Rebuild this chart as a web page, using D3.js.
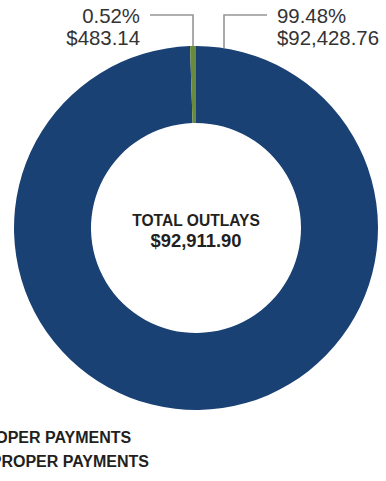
<!DOCTYPE html>
<html>
<head>
<meta charset="utf-8">
<script src="https://cdn.jsdelivr.net/npm/d3@7"></script>
<style>
  html, body { margin: 0; padding: 0; background: #fff; }
  svg { display: block; font-family: "Liberation Sans", Arial, Helvetica, sans-serif; }
</style>
</head>
<body>
<svg id="chart" width="386" height="481"></svg>
<script>
// data
const categories = ["PROPER PAYMENTS", "IMPROPER PAYMENTS"];
const amounts = [92428.76, 483.14];
const percents = [99.48, 0.52];
const totalLabel = "TOTAL OUTLAYS";
const totalAmount = 92911.90;

const colors = ["#1a4174", "#6a8b3b"];

let svg = d3.select("#chart");
let cx = 196, cy = 228;
let outerR = 182, innerR = 105;

let fmtMoney = d3.format("$,.2f");

let pie = d3.pie()
    .sort(null)
    .value(d => d.amount);

let data = categories.map((c, i) => ({
    name: c,
    amount: amounts[i],
    pct: percents[i],
    color: colors[i]
}));

let arcs = pie(data);

let arc = d3.arc()
    .innerRadius(innerR)
    .outerRadius(outerR);

let g = svg.append("g")
    .attr("transform", `translate(${cx},${cy})`);

g.selectAll("path.slice")
    .data(arcs)
    .enter()
    .append("path")
    .attr("class", "slice")
    .attr("d", arc)
    .attr("fill", d => d.data.color);

// center label
g.append("text")
    .attr("text-anchor", "middle")
    .attr("y", -2)
    .attr("font-size", 15.6)
    .attr("font-weight", "bold")
    .attr("fill", "#231f20")
    .text(totalLabel);
g.append("text")
    .attr("text-anchor", "middle")
    .attr("y", 19)
    .attr("font-size", 18.4)
    .attr("font-weight", "bold")
    .attr("fill", "#231f20")
    .text(fmtMoney(totalAmount));

// leader lines + labels
let lineY = 15;
let improper = arcs[1];
let midA = (improper.startAngle + improper.endAngle) / 2;
let lx = cx + outerR * Math.sin(midA);
let ly = cy - outerR * Math.cos(midA);

let rx = cx + 28;
let ry = cy - Math.sqrt(outerR * outerR - 28 * 28);

let line = d3.line();
svg.append("path")
    .attr("d", line([[lx, ly], [lx, lineY], [lx - 43, lineY]]))
    .attr("fill", "none")
    .attr("stroke", "#939598")
    .attr("stroke-width", 1.6);
svg.append("path")
    .attr("d", line([[rx, ry], [rx, lineY], [rx + 43, lineY]]))
    .attr("fill", "none")
    .attr("stroke", "#939598")
    .attr("stroke-width", 1.6);

function label(x, anchor, d) {
    let t = svg.append("text")
        .attr("text-anchor", anchor)
        .attr("font-size", 20.4)
        .attr("fill", "#333333");
    t.append("tspan").attr("x", x).attr("y", 23).text(d.pct.toFixed(2) + "%");
    t.append("tspan").attr("x", x).attr("y", 45).text(fmtMoney(d.amount));
}
label(lx - 53, "end", data[1]);
label(rx + 53, "start", data[0]);

// legend (partly off the left edge, as in the original crop)
let legend = svg.append("g")
    .attr("transform", "translate(-27,0)");
let legendItems = legend.selectAll("g")
    .data(data)
    .enter()
    .append("g")
    .attr("transform", (d, i) => `translate(0,${443 + i * 24})`);
legendItems.append("rect")
    .attr("x", -26)
    .attr("y", -12)
    .attr("width", 14)
    .attr("height", 14)
    .attr("fill", d => d.color);
legendItems.append("text")
    .attr("font-size", 16)
    .attr("font-weight", "bold")
    .attr("fill", "#231f20")
    .text(d => d.name);
</script>
</body>
</html>
